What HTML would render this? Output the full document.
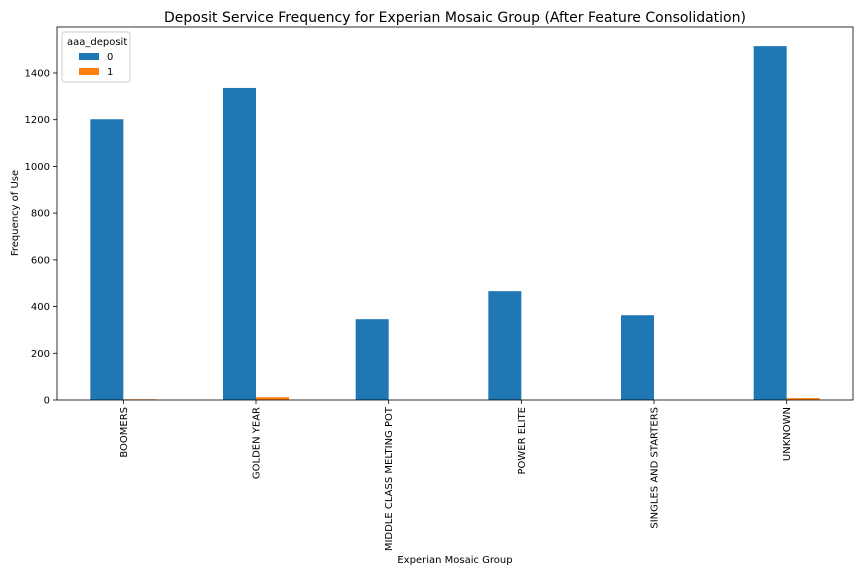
<!DOCTYPE html>
<html><head><meta charset="utf-8"><style>
body{margin:0;background:#fff;font-family:"Liberation Sans","DejaVu Sans",sans-serif;}
</style></head><body>
<svg id="c" width="864" height="576" xmlns="http://www.w3.org/2000/svg" font-family="DejaVu Sans, Liberation Sans, sans-serif">
<text x="455" y="22" font-size="14" text-anchor="middle">Deposit Service Frequency for Experian Mosaic Group (After Feature Consolidation)</text>
<g id="bars"></g>
<g id="axes"></g>
<rect x="57" y="27" width="796" height="373" fill="none" stroke="#000" stroke-width="0.8"/>
<text x="455" y="563" font-size="10" text-anchor="middle">Experian Mosaic Group</text>
<text transform="translate(18,213) rotate(-90)" font-size="10" text-anchor="middle">Frequency of Use</text>
<g>
<rect x="62" y="32" width="68" height="50" fill="#fff" stroke="#ccc" rx="2"/>
<text x="67" y="45" font-size="10">aaa_deposit</text>
<rect x="79" y="53" width="20" height="7" fill="#1f77b4"/>
<text x="107" y="60" font-size="10">0</text>
<rect x="79" y="68" width="20" height="7" fill="#ff7f0e"/>
<text x="107" y="75" font-size="10">1</text>
</g>
</svg>
<script>
const categories=["BOOMERS","GOLDEN YEAR","MIDDLE CLASS MELTING POT","POWER ELITE","SINGLES AND STARTERS","UNKNOWN"];
const series0=[1202,1336,346,466,363,1515];
const series1=[3,12,0,0,0,8];
const yTicks=[0,200,400,600,800,1000,1200,1400];
const L=57,R=853,T=27,B=400;
const ys=v=>B-v*(B-73)/1400;
const gw=(R-L)/categories.length;
const xc=i=>L+gw*(i+0.5);
const NS="http://www.w3.org/2000/svg";
const bars=document.getElementById('bars'),axes=document.getElementById('axes');
function mk(tag,attrs,parent){const e=document.createElementNS(NS,tag);for(const k in attrs)e.setAttribute(k,attrs[k]);parent.appendChild(e);return e;}
const bw=33;
categories.forEach((c,i)=>{
  const b0=mk('rect',{x:xc(i)-bw,y:ys(series0[i]),width:bw,height:B-ys(series0[i]),fill:'#1f77b4'},bars);
  
  
  const b1=mk('rect',{x:xc(i),y:ys(series1[i]),width:bw,height:B-ys(series1[i]),fill:'#ff7f0e'},bars);
  
  
  mk('line',{x1:xc(i),x2:xc(i),y1:B,y2:B+4,stroke:'#000','stroke-width':0.8},axes);
  const t=mk('text',{transform:`translate(${xc(i)+3.5},${B+7}) rotate(-90)`,'font-size':10,'text-anchor':'end'},axes);
  t.textContent=c;
  
  
});
yTicks.forEach(v=>{
  mk('line',{x1:L-4,x2:L,y1:ys(v),y2:ys(v),stroke:'#000','stroke-width':0.8},axes);
  const t=mk('text',{x:L-7,y:ys(v)+3.5,'font-size':10,'text-anchor':'end'},axes);
  t.textContent=v;
  
  
});
</script>
</body></html>
